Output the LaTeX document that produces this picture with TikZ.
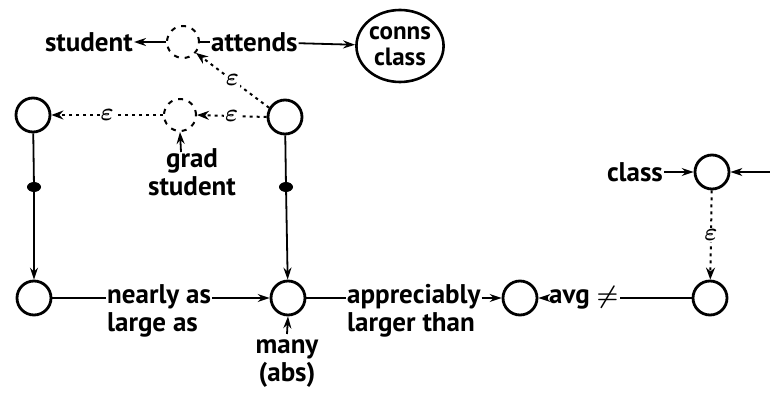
\documentclass[tikz,border=0pt]{standalone}
\usepackage{fontspec}
\setmainfont{PT Sans}
\usetikzlibrary{arrows.meta,shapes.geometric}

\begin{document}
\begin{tikzpicture}[x=1pt,y=-1pt,
  ent/.style={circle,draw,line width=2.8pt,minimum size=34pt,inner sep=0pt},
  hyp/.style={circle,draw,line width=2pt,dash pattern=on 5pt off 6pt,minimum size=32pt,inner sep=0pt},
  lbl/.style={font=\bfseries\boldmath\fontsize{27}{28}\selectfont,inner sep=1pt,align=left},
  link/.style={line width=1.8pt},
  tip/.style={link,-{Stealth[length=12pt,width=8pt]}},
  elink/.style={line width=2pt,dash pattern=on 3pt off 4pt,-{Stealth[length=12pt,width=9pt]}},
  eps/.style={fill=white,inner sep=1pt,font=\fontsize{30}{30}\selectfont\boldmath},
  blob/.style={ellipse,fill,minimum width=14pt,minimum height=10pt,inner sep=0pt}]
\useasboundingbox (0,0) rectangle (770,393);

% top row: who attends the class
\node[hyp] (A) at (183,42) {};
\node[lbl,anchor=east] (student) at (134,42) {student};
\node[lbl,anchor=west] (attends) at (210,42) {attends};
\node[ellipse,draw,line width=2.6pt,minimum width=82pt,minimum height=72pt,inner sep=0pt,
      font=\bfseries\fontsize{25}{26}\selectfont,align=center] (conns) at (400,46) {conns\\class};

% second row
\node[ent] (C) at (33,115) {};
\node[hyp] (D) at (180,115) {};
\node[ent] (B) at (285,117) {};
\node[lbl,align=center] (grad) at (192,172) {grad\\student};
\coordinate (gradtop) at (181,152);

% bottom row
\node[ent] (E) at (34,298) {};
\node[ent] (F) at (288,298) {};
\node[ent] (G) at (520,298) {};
\node[ent] (H) at (710,298) {};
\node[ent] (I) at (712,172) {};
\coordinate (offright) at (770,172);

\node[lbl,anchor=west] (nearly) at (106,311) {nearly as\\large as};
\node[lbl,anchor=west] (apprec) at (346,311) {appreciably\\larger than};
\node[lbl,align=center] (many) at (287,364) {many\\(abs)};
\coordinate (manytop) at (287,334);
\node[lbl,anchor=west] (avg) at (548,298) {avg $\neq$};
\node[lbl,anchor=east] (class) at (664,172) {class};

\node[blob] (m1) at (34,187) {};
\node[blob] (m2) at (286,187) {};

% connectors
\draw[tip] (A) -- (student);
\draw[link] (A) -- (attends);
\draw[tip] (attends) -- (conns);

\draw[elink] (B.150) -- node[eps] {$\varepsilon$} (A.-40);
\draw[elink] (B.west) -- node[eps] {$\varepsilon$} (D.east);
\draw[elink] (D.west) -- node[eps] {$\varepsilon$} (C.east);
\draw[tip] (gradtop) -- (D.south);

\draw[link] (C) -- (m1);
\draw[tip] (m1) -- (E);
\draw[link] (B) -- (m2);
\draw[tip] (m2) -- (F);

\draw[link] (E) -- (nearly.west |- E);
\draw[tip] (nearly.east |- F) -- (F);
\draw[tip] (manytop) -- (F.south);
\draw[link] (F) -- (apprec.west |- F);
\draw[tip] (apprec.east |- G) -- (G);
\draw[link] (H) -- (avg);
\draw[tip] (avg) -- (G);

\draw[tip] (class) -- (I);
\draw[tip] (offright) -- (I);
\draw[elink] (I) -- node[eps] {$\varepsilon$} (H);
\end{tikzpicture}
\end{document}
